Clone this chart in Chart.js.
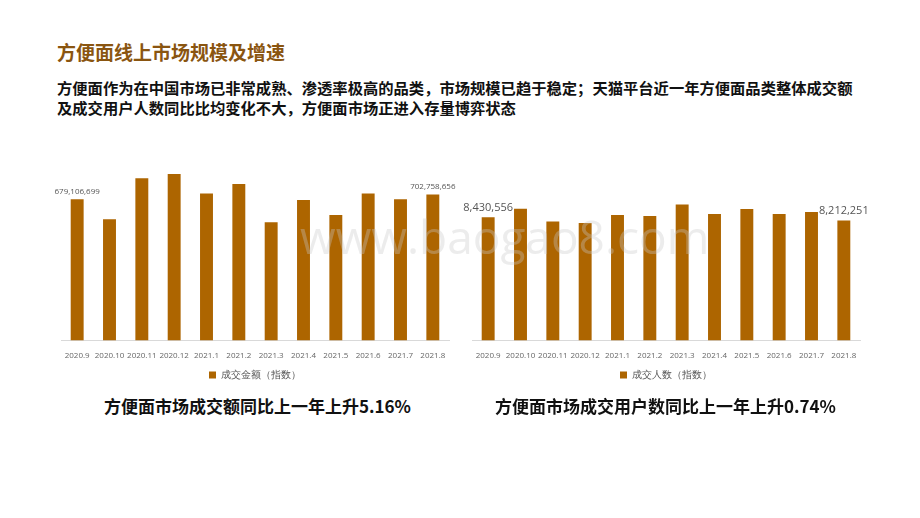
<!DOCTYPE html>
<html><head><meta charset="utf-8">
<script src="https://cdn.jsdelivr.net/npm/chart.js@4.4.0/dist/chart.umd.min.js"></script>
<style>
body{margin:0;width:920px;height:518px;background:#fff;font-family:"Noto Sans CJK SC",sans-serif;position:relative;overflow:hidden}
.t{position:absolute;white-space:nowrap}
#title{left:57px;top:38px;font-size:19px;font-weight:bold;color:#8a5510}
#sub{left:57px;top:77px;font-size:15.3px;font-weight:bold;color:#111;line-height:20px}
.cap{font-size:17px;font-weight:bold;color:#111;top:393px}
#wm{left:300px;top:205px;font-size:46px;color:rgba(200,200,200,0.35);font-family:"Open Sans",sans-serif}
.box{position:absolute;top:160px;width:448px;height:230px}
</style></head><body>
<div class="t" id="title">方便面线上市场规模及增速</div>
<div class="t" id="sub">方便面作为在中国市场已非常成熟、渗透率极高的品类，市场规模已趋于稳定；天猫平台近一年方便面品类整体成交额<br>及成交用户人数同比比均变化不大，方便面市场正进入存量博弈状态</div>
<div class="box" style="left:31px"><canvas id="c1"></canvas></div>
<div class="box" style="left:442px"><canvas id="c2"></canvas></div>
<div class="t" id="wm">www.baogao8.com</div>
<div class="t cap" style="left:104px">方便面市场成交额同比上一年上升5.16%</div>
<div class="t cap" style="left:495px">方便面市场成交用户数同比上一年上升0.74%</div>
<script>
const months = ["2020.9","2020.10","2020.11","2020.12","2021.1","2021.2","2021.3","2021.4","2021.5","2021.6","2021.7","2021.8"];
const gmv = [679106699,583400000,781100000,801400000,707300000,752800000,569300000,676000000,603800000,707300000,679100000,702758656];
const buyers = [8430556,9010000,8140000,8030000,8590000,8520000,9300000,8650000,8990000,8650000,8790000,8212251];
const barColor = "#ad6500";

// 最初と最後だけ数値を表示
const endLabels = {
  id: "endLabels",
  afterDatasetsDraw(chart, args, opts) {
    const ctx = chart.ctx;
    const meta = chart.getDatasetMeta(0);
    const data = chart.data.datasets[0].data;
    ctx.save();
    ctx.fillStyle = "#555";
    ctx.font = opts.size + "px 'Open Sans'";
    ctx.textAlign = "center";
    ctx.textBaseline = "bottom";
    [0, data.length - 1].forEach(i => {
      const el = meta.data[i];
      ctx.fillText(data[i].toLocaleString("en-US"), el.x, el.y - 4);
    });
    ctx.restore();
  }
};

function makeChart(id, values, label, max, size) {
  new Chart(document.getElementById(id), {
    type: "bar",
    data: { labels: months, datasets: [{ label, data: values, backgroundColor: barColor, barPercentage: 0.4, categoryPercentage: 1 }] },
    options: {
      responsive: true, maintainAspectRatio: false, animation: false,
      layout: { padding: { top: 8, left: 30, right: 30 } },
      plugins: {
        legend: { position: "bottom", labels: { boxWidth: 7, boxHeight: 7, color: "#555", font: { size: 10 }, padding: 6 } },
        tooltip: { enabled: false },
        endLabels: { size }
      },
      scales: {
        y: { display: false, min: 0, max },
        x: { grid: { display: false }, border: { color: "#d9d9d9" }, ticks: { color: "#666", font: { size: 8, family: "Open Sans" }, maxRotation: 0, autoSkip: false } }
      }
    },
    plugins: [endLabels]
  });
}
makeChart("c1", gmv, "成交金额（指数）", 830000000, 8);
makeChart("c2", buyers, "成交人数（指数）", 11800000, 11);
</script>
</body></html>
